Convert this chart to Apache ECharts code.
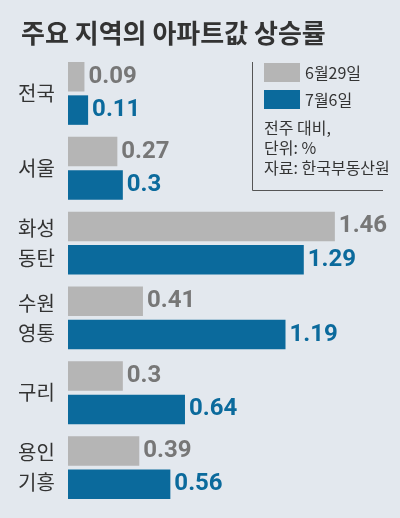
<!DOCTYPE html>
<html>
<head>
<meta charset="utf-8">
<script src="https://cdn.jsdelivr.net/npm/echarts@6/dist/echarts.min.js"></script>
<style>
  html, body { margin: 0; padding: 0; background: #e3e8ee; }
  #chart { width: 400px; height: 518px; }
</style>
</head>
<body>
<div id="chart"></div>
<script>
// 지역 (두 줄 이름은 줄바꿈)
var categories = ['전국', '서울', '화성\n동탄', '수원\n영통', '구리', '용인\n기흥'];
var seriesNames = ['6월29일', '7월6일'];
var jun29 = [0.09, 0.27, 1.46, 0.41, 0.3, 0.39];
var jul6 = [0.11, 0.3, 1.29, 1.19, 0.64, 0.56];
var notes = ['전주 대비,', '단위: %', '자료: 한국부동산원'];

var GRAY = '#b5b5b5';
var BLUE = '#0b6a9c';
var FONT = '"Noto Sans CJK KR", "Noto Sans", sans-serif';

var myChart = echarts.init(document.getElementById('chart'));

var option = {
  backgroundColor: '#e3e8ee',
  animation: false,
  title: {
    text: '주요 지역의 아파트값 상승률',
    left: 16,
    top: 15,
    textStyle: { fontFamily: FONT, fontSize: 26, fontWeight: 'bold', color: '#333' }
  },
  legend: {
    data: seriesNames,
    orient: 'vertical',
    left: 264,
    top: 63,
    icon: 'rect',
    itemWidth: 36,
    itemHeight: 19,
    itemGap: 8,
    padding: 0,
    textStyle: { fontFamily: FONT, fontSize: 16, color: '#333' }
  },
  grid: { left: 68, right: 3, top: 56, bottom: 13 },
  xAxis: {
    type: 'value',
    min: 0,
    max: 1.8,
    show: false
  },
  yAxis: {
    type: 'category',
    data: categories,
    inverse: true,
    axisLine: { show: false },
    axisTick: { show: false },
    axisLabel: {
      margin: 50,
      align: 'left',
      fontFamily: FONT,
      fontSize: 20,
      lineHeight: 30,
      color: '#333'
    }
  },
  series: [
    {
      name: seriesNames[0],
      type: 'bar',
      data: jun29,
      barWidth: 29.5,
      barGap: '13%',
      itemStyle: { color: GRAY },
      label: {
        show: true,
        position: 'right',
        distance: 4,
        fontFamily: 'Roboto, sans-serif',
        fontWeight: 'bold',
        fontSize: 24,
        color: '#777'
      }
    },
    {
      name: seriesNames[1],
      type: 'bar',
      data: jul6,
      barWidth: 29.5,
      barGap: '13%',
      itemStyle: { color: BLUE },
      label: {
        show: true,
        position: 'right',
        distance: 4,
        fontFamily: 'Roboto, sans-serif',
        fontWeight: 'bold',
        fontSize: 24,
        color: BLUE
      }
    }
  ],
  graphic: [
    {
      type: 'polyline',
      shape: { points: [[252.5, 62], [252.5, 190.5], [383, 190.5]] },
      style: { stroke: '#555', lineWidth: 1, fill: null }
    }
  ].concat(notes.map(function (t, i) {
    return {
      type: 'text',
      left: 264,
      top: 120 + i * 20,
      style: { text: t, fontFamily: FONT, fontSize: 16, fill: '#333' }
    };
  }))
};

myChart.setOption(option);
</script>
</body>
</html>
